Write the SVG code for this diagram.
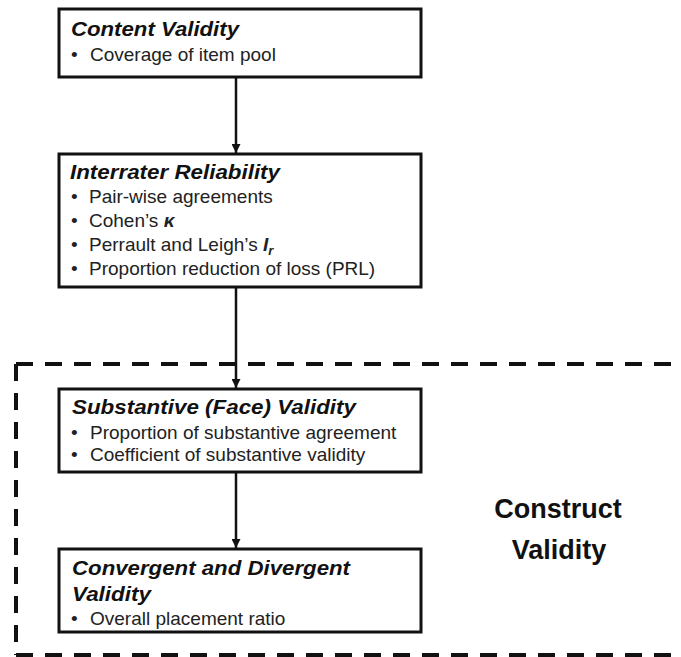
<svg xmlns="http://www.w3.org/2000/svg" width="681" height="657" viewBox="0 0 681 657">
  <defs>
    <marker id="arrow" viewBox="0 0 10 10" refX="10" refY="5" markerWidth="9" markerHeight="9" markerUnits="userSpaceOnUse" orient="auto">
      <path d="M0,0 L10,5 L0,10 z" fill="#111"/>
    </marker>
    <style>
      .box { fill: #fff; stroke: #111; stroke-width: 3; }
      .title { font-family: "Liberation Sans", Arial, sans-serif; font-weight: bold; font-style: italic; font-size: 20px; fill: #111; }
      .item { font-family: "Liberation Sans", Arial, sans-serif; font-size: 19px; fill: #222; }
      .big { font-family: "Liberation Sans", Arial, sans-serif; font-weight: bold; font-size: 27px; fill: #111; text-anchor: middle; }
      .dash { fill: none; stroke: #111; stroke-width: 4; stroke-dasharray: 17 12; }
      .link { fill: none; stroke: #111; stroke-width: 2.5; marker-end: url(#arrow); }
    </style>
  </defs>
  <rect width="681" height="657" fill="#fff"/>

  <!-- construct validity region -->
  <g id="construct-region">
    <line class="dash" x1="16" y1="364" x2="681" y2="364"/>
    <line class="dash" x1="16" y1="364" x2="16" y2="655"/>
    <line class="dash" x1="16" y1="655" x2="681" y2="655"/>
    <text class="big" x="558" y="518">Construct</text>
    <text class="big" x="559" y="559">Validity</text>
  </g>

  <!-- connectors -->
  <g id="connectors">
    <line class="link" x1="236" y1="78" x2="236" y2="153"/>
    <line class="link" x1="236" y1="288" x2="236" y2="388"/>
    <line class="link" x1="236" y1="473" x2="236" y2="548"/>
  </g>

  <g id="content-validity">
    <rect class="box" x="59" y="9" width="362" height="68"/>
    <text class="title" x="71" y="36" textLength="168" lengthAdjust="spacingAndGlyphs">Content Validity</text>
    <text class="item" x="71" y="61">•</text>
    <text class="item" x="90" y="61">Coverage of item pool</text>
  </g>

  <g id="interrater-reliability">
    <rect class="box" x="59" y="154" width="362" height="133"/>
    <text class="title" x="70" y="179" textLength="210" lengthAdjust="spacingAndGlyphs">Interrater Reliability</text>
    <text class="item" x="71" y="203">•</text>
    <text class="item" x="89" y="203">Pair-wise agreements</text>
    <text class="item" x="71" y="227">•</text>
    <text class="item" x="89" y="227">Cohen’s <tspan font-weight="bold" font-style="italic">κ</tspan></text>
    <text class="item" x="71" y="251">•</text>
    <text class="item" x="89" y="251">Perrault and Leigh’s <tspan font-weight="bold" font-style="italic">I</tspan><tspan font-weight="bold" font-style="italic" font-size="13" dy="4">r</tspan></text>
    <text class="item" x="71" y="275">•</text>
    <text class="item" x="89" y="275">Proportion reduction of loss (PRL)</text>
  </g>

  <g id="substantive-validity">
    <rect class="box" x="59" y="389" width="362" height="83"/>
    <text class="title" x="72" y="414" textLength="284" lengthAdjust="spacingAndGlyphs">Substantive (Face) Validity</text>
    <text class="item" x="71" y="439">•</text>
    <text class="item" x="90" y="439">Proportion of substantive agreement</text>
    <text class="item" x="71" y="461">•</text>
    <text class="item" x="90" y="461">Coefficient of substantive validity</text>
  </g>

  <g id="convergent-divergent-validity">
    <rect class="box" x="59" y="549" width="362" height="83"/>
    <text class="title" x="72" y="575" textLength="278" lengthAdjust="spacingAndGlyphs">Convergent and Divergent</text>
    <text class="title" x="72" y="601" textLength="79" lengthAdjust="spacingAndGlyphs">Validity</text>
    <text class="item" x="71" y="625">•</text>
    <text class="item" x="90" y="625">Overall placement ratio</text>
  </g>
</svg>
